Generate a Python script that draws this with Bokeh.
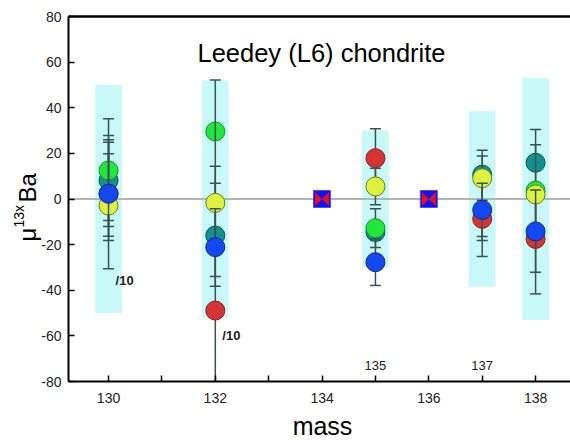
import math
from bokeh.plotting import figure
from bokeh.models import Range1d, FixedTicker, Label, LinearAxis
from bokeh.core.properties import value
from bokeh.embed import file_html
from bokeh.resources import INLINE

nan = float("nan")

# ---------------- data ----------------
masses = [130, 132, 135, 137, 138]
band_2sd = [50, 52, 30, 38.5, 53]

teal_y = [8.1, -16.0, -14.5, 10.7, 15.9]
teal_hi = [27.8, 6.9, -11.0, 21.4, 30.5]
teal_lo = [-12.1, -34.0, -18.0, -18.2, 1.3]

green_y = [12.5, 29.6, -12.8, nan, 3.7]
green_hi = [26.0, 32.0, -4.3, nan, 23.8]
green_lo = [-9.4, 27.0, -21.3, nan, -16.4]

red_y = [2.3, -48.9, 17.9, -8.7, -17.5]
red_hi = [24.9, 52.2, 30.8, 7.8, 5.0]
red_lo = [-18.2, -150.0, 5.0, -25.2, -41.6]

yellow_y = [-2.9, -1.7, 5.5, 9.1, 2.0]
yellow_hi = [19.8, 14.4, 13.5, 18.8, 5.0]
yellow_lo = [-16.3, -17.8, -2.5, -0.6, -1.0]

blue_y = [2.3, -21.1, -27.7, -4.8, -14.2]
blue_hi = [35.2, -4.3, -17.5, 6.9, 4.0]
blue_lo = [-30.6, -38.2, -37.9, -16.4, -32.1]

ref_mass = [134, 136]
ref_val = [0, 0]

note_mass = [130, 132]
note_val = [-35.7, -59.8]
note_text = ["/10", "/10"]

odd_mass = [135, 137]
odd_val = [-72.8, -72.8]
odd_text = ["135", "137"]

x_ticks = [130, 132, 134, 136, 138]
x_minor = [131, 133, 135, 137]
y_ticks = [-80, -60, -40, -20, 0, 20, 40, 60, 80]

# ---------------- layout (pixels) ----------------
W, H = 570, 440
X_LO, X_HI = 129.25, 138.654      # visible plot-area x extent
Y_LO, Y_HI = -80, 80              # visible plot-area y extent
PX_LEFT, PX_TOP, PX_BOTTOM = 68, 16, 59   # margins in pixels
xs_per_px = (X_HI - X_LO) / (W - PX_LEFT)
ys_per_px = (Y_HI - Y_LO) / (H - PX_TOP - PX_BOTTOM)

FONT = "Liberation Sans"

p = figure(width=W, height=H, output_backend="svg", toolbar_location=None,
           x_range=Range1d(X_LO - PX_LEFT * xs_per_px, X_HI),
           y_range=Range1d(Y_LO - PX_BOTTOM * ys_per_px, Y_HI + PX_TOP * ys_per_px),
           x_axis_location=None, y_axis_location=None,
           min_border_left=0, min_border_right=0, min_border_top=0, min_border_bottom=0)
p.outline_line_color = None
p.grid.visible = False
p.background_fill_color = "white"

def style_axis(ax):
    ax.axis_line_color = "black"
    ax.axis_line_width = 2
    ax.major_tick_line_color = "black"
    ax.major_tick_line_width = 1.5
    ax.minor_tick_line_color = "black"
    ax.minor_tick_line_width = 1.5
    ax.major_tick_in = 6
    ax.major_tick_out = 0
    ax.minor_tick_in = 6
    ax.minor_tick_out = 0
    ax.major_label_text_font = FONT
    ax.major_label_text_font_size = "14px"
    ax.major_label_text_color = "#222222"

xax = LinearAxis(fixed_location=Y_LO, bounds=(X_LO, X_HI),
                 ticker=FixedTicker(ticks=x_ticks, minor_ticks=x_minor))
style_axis(xax)
xax.major_label_standoff = 11
xax.major_label_overrides = {t: str(t) for t in x_ticks}
p.add_layout(xax, "below")

yax = LinearAxis(fixed_location=X_LO, bounds=(Y_LO, Y_HI),
                 ticker=FixedTicker(ticks=y_ticks, minor_ticks=[]))
style_axis(yax)
yax.major_label_standoff = 7
yax.major_label_overrides = {t: str(t) for t in y_ticks}
p.add_layout(yax, "left")

# top frame line
tax = LinearAxis(fixed_location=Y_HI, bounds=(X_LO, X_HI),
                 ticker=FixedTicker(ticks=[], minor_ticks=[]))
tax.axis_line_color = "black"
tax.axis_line_width = 2.5
tax.major_label_text_font_size = "0px"
p.add_layout(tax, "above")

# 2SD bands
p.vbar(x=masses, width=0.5, top=band_2sd, bottom=[-b for b in band_2sd],
       fill_color="#c9f8f8", line_color=None)

# zero line
p.segment(x0=[X_LO], y0=[0], x1=[X_HI], y1=[0], line_color="#b4b4b4", line_width=2)

# series
series = [
    (teal_y, teal_hi, teal_lo, "#14908e", "#0b5656"),
    (green_y, green_hi, green_lo, "#22e63c", "#15902a"),
    (red_y, red_hi, red_lo, "#d43434", "#8a1c1c"),
    (yellow_y, yellow_hi, yellow_lo, "#dcf23e", "#6f7a16"),
    (blue_y, blue_hi, blue_lo, "#1448f0", "#14268e"),
]
BAR = "#3a5252"
for ys, his, los, fill, edge in series:
    ok = [i for i, y in enumerate(ys) if not math.isnan(y)]
    xs = [masses[i] for i in ok]
    yy = [ys[i] for i in ok]
    hh = [his[i] for i in ok]
    ll = [los[i] for i in ok]
    # whiskers are clipped at the bottom of the plot area
    ll_clip = [max(l, Y_LO) for l in ll]
    p.segment(x0=xs, y0=ll_clip, x1=xs, y1=hh, line_color=BAR, line_width=1.5)
    cap_x = xs + [x for x, l in zip(xs, ll) if l >= Y_LO]
    cap_y = hh + [l for l in ll if l >= Y_LO]
    p.scatter(x=cap_x, y=cap_y, marker="dash", size=11, line_color=BAR, line_width=1.5)
    p.scatter(x=xs, y=yy, marker="circle", size=19, fill_color=fill, line_color=edge, line_width=1)

# reference (normalising) isotopes: blue square with red bow-tie
p.scatter(x=ref_mass, y=ref_val, marker="square", size=17, fill_color="#1212ee",
          line_color="#4a4aff", line_width=1)
DX, DY = 0.13, 3.1
tri_xs, tri_ys = [], []
for m, v in zip(ref_mass, ref_val):
    tri_xs.append([m - DX, m - DX, m]); tri_ys.append([v + DY, v - DY, v])
    tri_xs.append([m + DX, m + DX, m]); tri_ys.append([v + DY, v - DY, v])
p.patches(xs=tri_xs, ys=tri_ys, fill_color="#e8101c", line_color=None)

# notes
p.text(x=note_mass, y=note_val, text=note_text, x_offset=7,
       text_font=value(FONT), text_font_size="13px", text_font_style="bold",
       text_align="left", text_baseline="middle", text_color="#222222")
p.text(x=odd_mass, y=odd_val, text=odd_text,
       text_font=value(FONT), text_font_size="13px",
       text_align="center", text_baseline="middle", text_color="#222222")

# title inside the plot area
p.add_layout(Label(x=321, y=H - 52, x_units="screen", y_units="screen",
                   text="Leedey (L6) chondrite", text_font=FONT, text_font_size="25.5px",
                   text_align="center", text_baseline="middle", text_color="black"))

# x axis title
p.add_layout(Label(x=322, y=H - 425.5, x_units="screen", y_units="screen",
                   text="mass", text_font=FONT, text_font_size="25px",
                   text_align="center", text_baseline="middle", text_color="black"))

# y axis title: mu ^13x Ba (rotated)
ang = math.pi / 2
p.add_layout(Label(x=27, y=H - 241, x_units="screen", y_units="screen", angle=ang,
                   text="\u03bc", text_font=FONT, text_font_size="24px",
                   text_align="left", text_baseline="middle", text_color="black"))
p.add_layout(Label(x=18, y=H - 227, x_units="screen", y_units="screen", angle=ang,
                   text="13x", text_font=FONT, text_font_size="14px",
                   text_align="left", text_baseline="middle", text_color="black"))
p.add_layout(Label(x=27, y=H - 202, x_units="screen", y_units="screen", angle=ang,
                   text="Ba", text_font=FONT, text_font_size="24px",
                   text_align="left", text_baseline="middle", text_color="black"))

open("out.html", "w").write(file_html(p, INLINE))
